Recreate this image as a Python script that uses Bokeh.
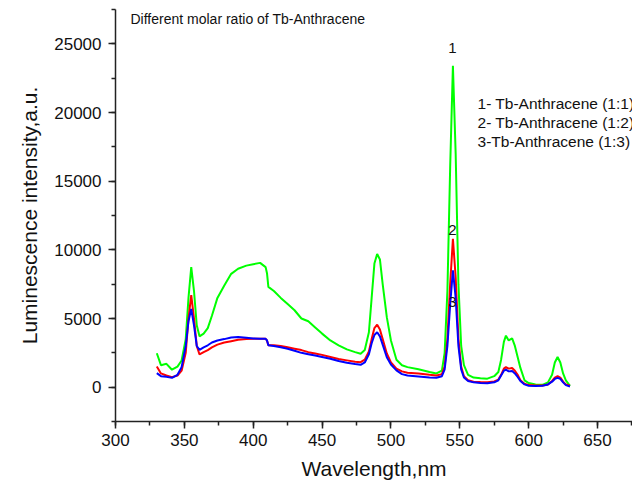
from bokeh.plotting import figure
from bokeh.models import SingleIntervalTicker, Range1d, ColumnDataSource
from bokeh.core.properties import value
from bokeh.embed import file_html
from bokeh.resources import INLINE

# Wavelength (nm) sampling points
wavelength = [330, 333, 337, 341, 345, 348, 351, 353, 355, 357, 359, 361, 364, 367, 370, 374,
              379, 384, 389, 395, 400, 405, 409, 410, 411, 415, 420, 425, 430, 435, 440, 445,
              450, 456, 462, 468, 474, 478, 481, 484, 486, 488, 490, 492, 494, 497, 500, 504,
              508, 512, 520, 528, 533, 537, 539, 541, 543, 545, 547, 549, 551, 553, 556, 560,
              565, 570, 575, 578, 580, 582, 583.5, 585.5, 588, 590, 592, 594, 597, 600, 605, 610,
              614, 617, 619, 621, 623, 625, 627, 630]

# 1- Tb-Anthracene (1:1)  (green)
ratio_1_1 = [2470, 1600, 1700, 1270, 1500, 1940, 3500, 6500, 8740, 7000, 4500, 3700, 3900, 4300, 5200, 6500,
             7400, 8250, 8620, 8850, 8950, 9050, 8740, 8300, 7300, 7000, 6500, 6050, 5600, 5000, 4800, 4350,
             3900, 3400, 3050, 2750, 2550, 2430, 2700, 4000, 6500, 9000, 9700, 9300, 7500, 5100, 3400, 2000,
             1600, 1460, 1300, 1100, 1000, 1200, 2500, 7000, 16000, 23400, 17000, 7500, 3000, 1600, 900, 700,
             650, 620, 800, 1100, 2000, 3300, 3750, 3400, 3550, 3000, 2200, 1400, 500, 300, 200, 170,
             350, 900, 1800, 2200, 1800, 1000, 500, 100]

# 2- Tb-Anthracene (1:2)  (red)
ratio_1_2 = [1500, 1000, 850, 730, 850, 1200, 2500, 5000, 6700, 5000, 3000, 2380, 2550, 2700, 2900, 3100,
             3250, 3350, 3450, 3500, 3520, 3520, 3520, 3400, 3050, 3050, 3000, 2900, 2800, 2700, 2550, 2450,
             2350, 2200, 2050, 1950, 1850, 1820, 2000, 2600, 3500, 4300, 4550, 4200, 3500, 2450, 1800, 1350,
             1150, 1050, 1000, 900, 850, 950, 1500, 3500, 7500, 10800, 8000, 3500, 1500, 800, 500, 400,
             370, 360, 420, 550, 900, 1350, 1460, 1350, 1400, 1200, 900, 500, 250, 150, 120, 120,
             200, 450, 700, 800, 700, 400, 200, 100]

# 3-Tb-Anthracene (1:3)  (blue)
ratio_1_3 = [1020, 800, 750, 680, 900, 1460, 3000, 4800, 5700, 4500, 3000, 2720, 2900, 3050, 3250, 3400,
             3500, 3620, 3650, 3600, 3550, 3520, 3520, 3400, 3050, 3000, 2900, 2800, 2650, 2500, 2400, 2300,
             2200, 2070, 1900, 1780, 1680, 1630, 1800, 2400, 3200, 3800, 4000, 3700, 3100, 2180, 1650, 1220,
             950, 850, 780, 700, 680, 800, 1300, 3000, 6000, 8500, 6500, 3000, 1300, 700, 450, 350,
             300, 290, 350, 500, 850, 1200, 1270, 1150, 1170, 1000, 750, 450, 200, 100, 80, 100,
             200, 400, 600, 680, 600, 350, 150, 50]

series_names = ["1- Tb-Anthracene (1:1)", "2- Tb-Anthracene (1:2)", "3-Tb-Anthracene (1:3)"]
peak_labels = ["1", "2", "3"]
title_text = "Different molar ratio of Tb-Anthracene"

FONT = value("Liberation Sans")

p = figure(width=632, height=486, output_backend="svg", toolbar_location=None,
           x_range=Range1d(300, 675.4), y_range=Range1d(-2500, 27500),
           min_border_left=115, min_border_right=0, min_border_top=9, min_border_bottom=65)
p.outline_line_color = None
p.grid.visible = False
p.background_fill_color = "white"
p.border_fill_color = "white"

src = ColumnDataSource(dict(x=wavelength, g=ratio_1_1, r=ratio_1_2, b=ratio_1_3))
p.line("x", "g", source=src, line_color="#00ff00", line_width=2)
p.line("x", "r", source=src, line_color="#ff0000", line_width=2)
p.line("x", "b", source=src, line_color="#0000ff", line_width=2)

p.xaxis.ticker = SingleIntervalTicker(interval=50, num_minor_ticks=2)
p.yaxis.ticker = SingleIntervalTicker(interval=5000, num_minor_ticks=2)
for ax in (p.xaxis, p.yaxis):
    ax.axis_line_color = "#222222"
    ax.axis_line_width = 1.5
    ax.major_tick_line_color = "#222222"
    ax.major_tick_line_width = 1.5
    ax.minor_tick_line_color = "#222222"
    ax.minor_tick_line_width = 1.5
    ax.major_tick_out = 7
    ax.major_tick_in = 0
    ax.minor_tick_out = 4
    ax.minor_tick_in = 0
    ax.major_label_text_font = "Liberation Sans"
    ax.major_label_text_font_size = "17px"
    ax.major_label_text_color = "#111111"
    ax.axis_label_text_font = "Liberation Sans"
    ax.axis_label_text_font_size = "21px"
    ax.axis_label_text_font_style = "normal"
    ax.axis_label_text_color = "#111111"

p.xaxis.axis_label = "Wavelength,nm"
p.yaxis.axis_label = "Luminescence intensity,a.u."
p.xaxis.major_label_standoff = 5
p.yaxis.major_label_standoff = 7
p.xaxis.axis_label_standoff = 8
p.yaxis.axis_label_standoff = 10

# title inside plot
p.text(x=[310.9], y=[26840], text=[title_text], text_font=FONT, text_font_size="14px",
       text_baseline="middle", text_align="left", text_color="#111111")

# legend texts
p.text(x=[562.9] * 3, y=[20650, 19270, 17880], text=series_names, text_font=FONT,
       text_font_size="15.5px", text_baseline="middle", text_align="left", text_color="#111111")

# peak labels
p.text(x=[544.7] * 3, y=[24730, 11410, 6170], text=peak_labels, text_font=FONT,
       text_font_size="15px", text_baseline="middle", text_align="center", text_color="#111111")

open("out.html", "w").write(file_html(p, INLINE))
